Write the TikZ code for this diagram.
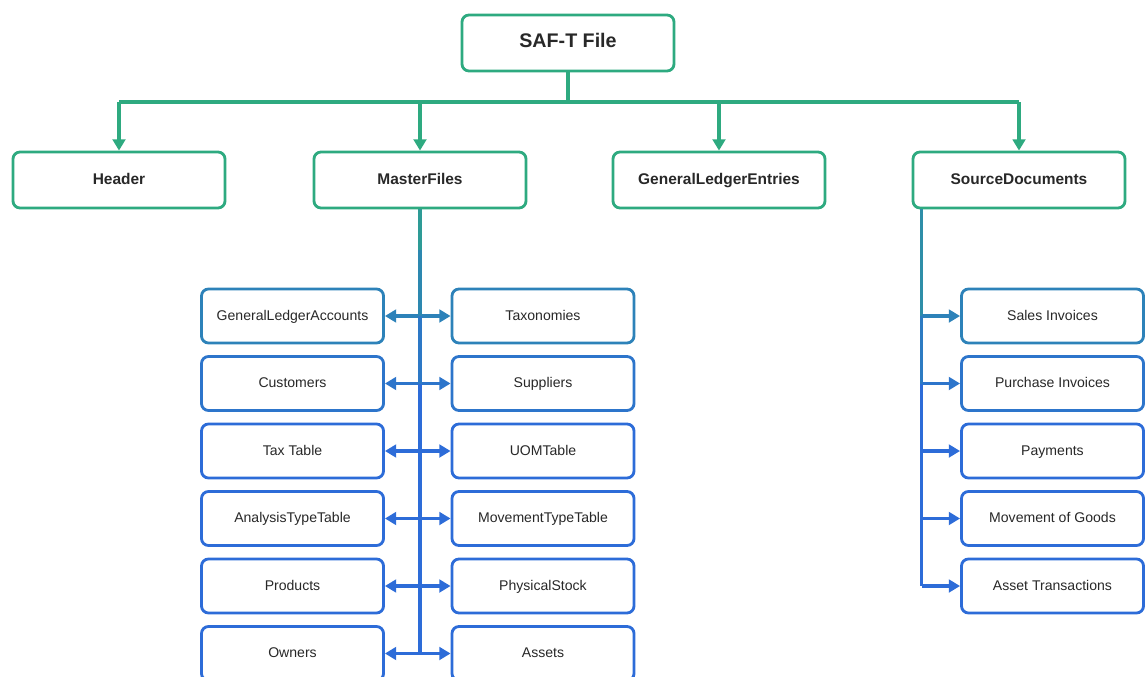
\documentclass[tikz,border=0pt]{standalone}
\usepackage{fontspec}
\setmainfont{Liberation Sans}
\usetikzlibrary{arrows.meta, positioning, calc}
\definecolor{safgreen}{RGB}{46,170,128}
\definecolor{safblue}{RGB}{45,108,216}
\definecolor{saftext}{RGB}{40,40,40}

\begin{document}
\begin{tikzpicture}[x=0.025cm, y=-0.025cm, >={Triangle[length=8pt,width=9pt]}]
    % Styles
    \tikzstyle{topblock} = [rectangle, draw=safgreen, line width=2pt, fill=white, text=saftext,
                           rounded corners=5pt, minimum width=5.3cm, minimum height=1.4cm,
                           text height=1.6ex, text depth=0.4ex,
                           font=\fontsize{11}{13}\selectfont\bfseries]
    \tikzstyle{subblock} = [rectangle, draw=safblue, line width=2pt, fill=white, text=saftext,
                           rounded corners=5pt, minimum width=4.55cm, minimum height=1.35cm,
                           text height=1.6ex, text depth=0.4ex,
                           font=\fontsize{10}{12}\selectfont]
    \tikzstyle{link} = [draw=safgreen, line width=2.4pt]
    \tikzstyle{sublink} = [line width=2.4pt]

    \useasboundingbox (0,0) rectangle (1147,677);

    % Top level
    \node[topblock, font=\fontsize{14}{16}\selectfont\bfseries] (saf) at (568,43) {SAF-T File};
    \node[topblock] (hdr) at (119,180) {Header};
    \node[topblock] (mf) at (420,180) {MasterFiles};
    \node[topblock] (gle) at (719,180) {GeneralLedgerEntries};
    \node[topblock] (sd) at (1019,180) {SourceDocuments};

    \coordinate (bus) at (568,102);
    \draw[link] (saf.south) -- (bus);
    \draw[link] (hdr.north |- bus) -- (sd.north |- bus);
    \foreach \n in {hdr, mf, gle, sd}
        \draw[link, ->] (\n.north |- bus) -- (\n.north);

    % MasterFiles children
    \foreach \ln/\lt/\rn/\rt/\mix [count=\i] in {
        gla/GeneralLedgerAccounts/tax/Taxonomies/65,
        cus/Customers/sup/Suppliers/85,
        ttb/Tax Table/uom/UOMTable/100,
        att/AnalysisTypeTable/mtt/MovementTypeTable/100,
        prd/Products/phs/PhysicalStock/100,
        own/Owners/ast/Assets/100} {
        \node[subblock, draw=safblue!\mix!safgreen] (\ln) at (292.5,{316+67.5*(\i-1)}) {\lt};
        \node[subblock, draw=safblue!\mix!safgreen] (\rn) at (543,{316+67.5*(\i-1)}) {\rt};
        \draw[sublink, <->, safblue!\mix!safgreen] (\ln.east) -- (\rn.west);
    }
    \coordinate (mfa) at (420,250);
    \draw[sublink, safblue!25!safgreen] (mf.south) -- (mfa);
    \draw[sublink, safblue!55!safgreen] (mfa) -- (mf.south |- gla.east);
    \draw[sublink, safblue!80!safgreen] (mf.south |- gla.east) -- (mf.south |- cus.east);
    \draw[sublink, safblue] (mf.south |- cus.east) -- (mf.south |- own.east);

    % SourceDocuments children
    \foreach \n/\t/\mix [count=\i] in {
        sin/Sales Invoices/65,
        pin/Purchase Invoices/85,
        pay/Payments/100,
        mog/Movement of Goods/100,
        atr/Asset Transactions/100} {
        \node[subblock, draw=safblue!\mix!safgreen] (\n) at (1052.5,{316+67.5*(\i-1)}) {\t};
    }
    \coordinate (sdbus) at ($(sd.south west)+(10,0)$);
    \draw[sublink, safblue!45!safgreen] (sdbus) -- (sdbus |- sin.west);
    \draw[sublink, safblue!75!safgreen] (sdbus |- sin.west) -- (sdbus |- pin.west);
    \draw[sublink, safblue] (sdbus |- pin.west) -- (sdbus |- atr.west);
    \foreach \n/\mix in {sin/65, pin/85, pay/100, mog/100, atr/100}
        \draw[sublink, ->, safblue!\mix!safgreen] (sdbus |- \n.west) -- (\n.west);
\end{tikzpicture}
\end{document}
